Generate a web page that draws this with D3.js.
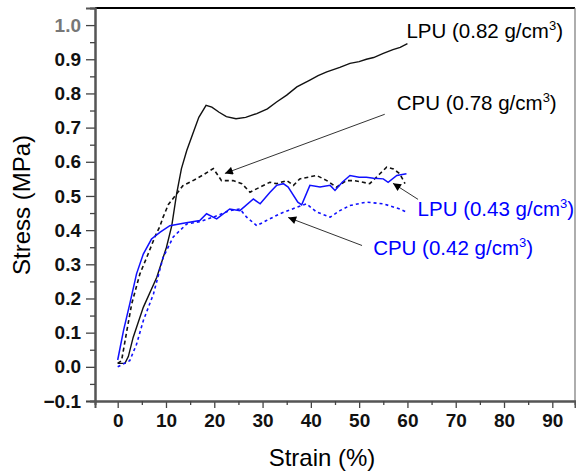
<!DOCTYPE html>
<html>
<head>
    <meta charset="utf-8">
    <title>Stress vs Strain</title>
    <script type="text/javascript" src="https://cdn.jsdelivr.net/npm/d3@7/dist/d3.min.js"></script>
    <style type="text/css">
        body { margin: 0; background: #fff; }
        text { font-family: "Liberation Sans", Arial, sans-serif; }
    </style>
</head>
<body>
    <script type="text/javascript">
        var w = 576;
        var h = 474;

        // LPU 0.82 g/cm3 (black solid)
        var lpu82Strain = [0, 1.5, 2.2, 3.2, 5.3, 8.1, 10.1, 11.2, 12.2, 13.2, 14.3, 15.5, 16.8, 18.3, 19.5, 21, 22.5, 24.5, 26.5, 28.8, 31, 32.9, 35, 37.1, 39.8, 41.5, 43.3, 46, 48.1, 50, 51.5, 53, 55, 57, 58.5, 60];
        var lpu82Stress = [0.01, 0.01, 0.03, 0.086, 0.174, 0.262, 0.35, 0.413, 0.506, 0.58, 0.633, 0.68, 0.73, 0.765, 0.76, 0.745, 0.732, 0.726, 0.73, 0.741, 0.755, 0.775, 0.795, 0.819, 0.839, 0.852, 0.863, 0.876, 0.888, 0.893, 0.9, 0.905, 0.917, 0.928, 0.935, 0.946];

        // CPU 0.78 g/cm3 (black dashed)
        var cpu78Strain = [0, 0.8, 1.9, 2.9, 4.6, 6.3, 7.7, 8.8, 9.4, 10.5, 12.2, 13.5, 15.6, 17.5, 19.8, 21.5, 23.9, 25.7, 27.4, 29.5, 31.5, 32.9, 35, 36.4, 37.7, 39.5, 41.2, 43.3, 45.3, 47.4, 49, 50.8, 52.2, 54.3, 55.7, 57.1, 58.4, 59.5];
        var cpu78Stress = [0.01, 0.018, 0.106, 0.184, 0.272, 0.33, 0.38, 0.413, 0.438, 0.475, 0.506, 0.53, 0.545, 0.56, 0.58, 0.545, 0.545, 0.536, 0.511, 0.526, 0.54, 0.536, 0.545, 0.531, 0.55, 0.555, 0.56, 0.545, 0.526, 0.545, 0.545, 0.54, 0.536, 0.565, 0.584, 0.579, 0.565, 0.536];

        // LPU 0.43 g/cm3 (blue solid)
        var lpu43Strain = [0, 1.2, 2.5, 3.9, 5.3, 7, 8.8, 10.8, 13.6, 17, 18.4, 20.5, 23.2, 25.3, 28.1, 29.5, 31.5, 32.9, 34.3, 35.3, 37.3, 38.1, 39.8, 41.9, 44, 45, 46.5, 48.1, 50, 51.5, 53, 55, 56, 57.8, 59.8];
        var lpu43Stress = [0.02, 0.106, 0.184, 0.272, 0.33, 0.374, 0.394, 0.413, 0.42, 0.428, 0.448, 0.433, 0.462, 0.457, 0.491, 0.477, 0.51, 0.531, 0.536, 0.526, 0.482, 0.474, 0.531, 0.526, 0.531, 0.516, 0.54, 0.56, 0.555, 0.555, 0.552, 0.55, 0.54, 0.56, 0.565];

        // CPU 0.42 g/cm3 (blue dashed)
        var cpu42Strain = [0, 2.5, 3.9, 5.3, 7.4, 9.4, 11.5, 12.9, 14.3, 17, 19.8, 23.2, 25.3, 26.7, 28.8, 30.8, 33.6, 37.1, 39.1, 41.2, 44, 46, 48.1, 51.5, 55, 58.4, 59.8];
        var cpu42Stress = [0, 0.018, 0.066, 0.135, 0.213, 0.32, 0.38, 0.399, 0.418, 0.425, 0.438, 0.457, 0.462, 0.438, 0.413, 0.428, 0.448, 0.467, 0.477, 0.453, 0.438, 0.457, 0.472, 0.482, 0.477, 0.462, 0.453];

        var xTicks = [0, 10, 20, 30, 40, 50, 60, 70, 80, 90];
        var yTicks = [-0.1, 0.0, 0.1, 0.2, 0.3, 0.4, 0.5, 0.6, 0.7, 0.8, 0.9, 1.0];

        // labels: name, density, x, y (data units)
        var labelText = ["LPU", "CPU", "LPU", "CPU"];
        var labelDensity = ["0.82", "0.78", "0.43", "0.42"];
        var labelX = [59.8, 57.8, 62.1, 52.9];
        var labelY = [0.962, 0.751, 0.44, 0.326];
        var labelColor = ["#000", "#000", "#0000ff", "#0000ff"];

        // arrows: from (x1,y1) to tip (x2,y2), data units
        var arrowX1 = [55.3, 62.2, 50.6];
        var arrowY1 = [0.739, 0.49, 0.355];
        var arrowX2 = [22.2, 57.0, 35.3];
        var arrowY2 = [0.566, 0.537, 0.437];

        var xScale = d3.scaleLinear().domain([-4.7, 94.7]).range([95, 575]);
        var yScale = d3.scaleLinear().domain([-0.1, 1.05]).range([401, 8]);

        var svg = d3.select("body").append("svg")
            .attr("width", w)
            .attr("height", h);

        svg.append("defs").append("marker")
            .attr("id", "head")
            .attr("viewBox", "0 0 10 10")
            .attr("refX", 10).attr("refY", 5)
            .attr("markerWidth", 11).attr("markerHeight", 8)
            .attr("markerUnits", "userSpaceOnUse")
            .attr("orient", "auto")
            .append("path").attr("d", "M0,0 L10,5 L0,10 Z").attr("fill", "#000");

        // frame top and right
        svg.append("line").attr("x1", 95).attr("x2", 575).attr("y1", 8).attr("y2", 8)
            .attr("stroke", "#000").attr("stroke-width", 2);
        svg.append("line").attr("x1", 575).attr("x2", 575).attr("y1", 8).attr("y2", 401)
            .attr("stroke", "#777").attr("stroke-width", 1.2);

        // axes
        var xAxis = d3.axisBottom(xScale).tickValues(xTicks).tickSize(7).tickPadding(6).tickFormat(d3.format("d"));
        var xMinor = d3.axisBottom(xScale).tickValues(d3.range(5, 95, 10)).tickSize(4).tickFormat("");
        var yAxis = d3.axisLeft(yScale).tickValues(yTicks).tickSize(9).tickPadding(5).tickFormat(d3.format(".1f"));
        var yMinor = d3.axisLeft(yScale).tickValues(d3.range(-0.05, 1.0, 0.1)).tickSize(5).tickFormat("");

        var gx = svg.append("g").attr("transform", "translate(0,401)").call(xAxis);
        svg.append("g").attr("transform", "translate(0,401)").call(xMinor);
        var gy = svg.append("g").attr("transform", "translate(95,0)").call(yAxis);
        svg.append("g").attr("transform", "translate(95,0)").call(yMinor);

        svg.selectAll(".domain").attr("stroke", "#555").attr("stroke-width", 2);
        svg.selectAll(".tick line").attr("stroke", "#444").attr("stroke-width", 1.3);
        svg.selectAll(".tick text")
            .attr("fill", "#111")
            .style("font-size", "19px")
            .style("font-weight", "bold")
            .style("font-family", "'Liberation Sans', Arial, sans-serif");
        gy.selectAll(".tick text").filter(function(d) { return d == 1.0; }).attr("fill", "#777");

        // axis titles
        svg.append("text")
            .attr("x", 322).attr("y", 466)
            .attr("text-anchor", "middle")
            .style("font-size", "24px")
            .text("Strain (%)");
        svg.append("text")
            .attr("transform", "translate(30,205) rotate(-90)")
            .attr("text-anchor", "middle")
            .style("font-size", "24px")
            .text("Stress (MPa)");

        // curves
        var line = d3.line()
            .x(function(d) { return xScale(d[0]); })
            .y(function(d) { return yScale(d[1]); });

        function pairs(xs, ys) {
            return xs.map(function(x, i) { return [x, ys[i]]; });
        }

        svg.append("path").datum(pairs(lpu82Strain, lpu82Stress))
            .attr("d", line).attr("fill", "none")
            .attr("stroke", "#111").attr("stroke-width", 1.4);
        svg.append("path").datum(pairs(cpu78Strain, cpu78Stress))
            .attr("d", line).attr("fill", "none")
            .attr("stroke", "#111").attr("stroke-width", 1.6)
            .attr("stroke-dasharray", "4,3");
        svg.append("path").datum(pairs(lpu43Strain, lpu43Stress))
            .attr("d", line).attr("fill", "none")
            .attr("stroke", "#1010ff").attr("stroke-width", 1.5);
        svg.append("path").datum(pairs(cpu42Strain, cpu42Stress))
            .attr("d", line).attr("fill", "none")
            .attr("stroke", "#1010ff").attr("stroke-width", 1.6)
            .attr("stroke-dasharray", "3,3");

        // arrows
        svg.selectAll(".arrow").data(arrowX1).enter().append("line")
            .attr("class", "arrow")
            .attr("x1", function(d, i) { return xScale(arrowX1[i]); })
            .attr("y1", function(d, i) { return yScale(arrowY1[i]); })
            .attr("x2", function(d, i) { return xScale(arrowX2[i]); })
            .attr("y2", function(d, i) { return yScale(arrowY2[i]); })
            .attr("stroke", "#333").attr("stroke-width", 1)
            .attr("marker-end", "url(#head)");

        // labels
        var lbl = svg.selectAll(".lbl").data(labelText).enter().append("text")
            .attr("class", "lbl")
            .attr("x", function(d, i) { return xScale(labelX[i]); })
            .attr("y", function(d, i) { return yScale(labelY[i]); })
            .attr("fill", function(d, i) { return labelColor[i]; })
            .style("font-size", "20.5px");
        lbl.append("tspan").text(function(d, i) { return d + " (" + labelDensity[i] + " g/cm"; });
        lbl.append("tspan").attr("dy", -8).style("font-size", "13px").text("3");
        lbl.append("tspan").attr("dy", 8).text(")");
    </script>
</body>
</html>
